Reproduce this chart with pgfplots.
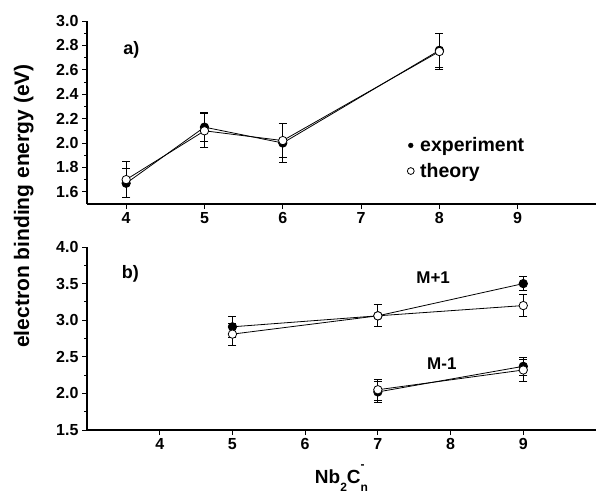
\documentclass[border=0pt]{standalone}
\usepackage{fontspec}
\setmainfont{Liberation Sans}
\usepackage{pgfplots}
\usepackage{pgfplotstable}
\pgfplotsset{compat=1.18}

% panel a)
\pgfplotstableread{
n  y     err
4  1.67  0.12
5  2.13  0.12
6  2.00  0.16
8  2.76  0.14
}\expA
\pgfplotstableread{
n  y     err
4  1.70  0.15
5  2.10  0.14
6  2.02  0.14
8  2.75  0.15
}\thyA
% panel b), M+1
\pgfplotstableread{
n  y     err
5  2.91  0.14
7  3.06  0.15
9  3.50  0.10
}\expP
\pgfplotstableread{
n  y     err
5  2.81  0.15
7  3.06  0.15
9  3.20  0.15
}\thyP
% panel b), M-1
\pgfplotstableread{
n  y     err
7  2.02  0.14
9  2.37  0.12
}\expM
\pgfplotstableread{
n  y     err
7  2.05  0.14
9  2.32  0.15
}\thyM

\tikzset{lab/.style={font=\fontsize{17}{17}\selectfont\bfseries}}

\pgfplotsset{
  panel/.style={
    scale only axis, width=509pt, height=183pt,
    axis x line=bottom, axis y line=left,
    axis line style={-, line width=1.1pt},
    tick align=outside, major tick length=5pt, minor tick length=3pt,
    tick style={black, line width=1pt},
    xtick={4,5,6,7,8,9},
    minor y tick num=1,
    ticklabel style={font=\fontsize{16}{16}\selectfont\bfseries},
    /pgf/number format/assume math mode=true,
    yticklabel style={/pgf/number format/.cd, fixed, fixed zerofill, precision=1},
    clip=false,
  },
  errs/.style={/pgfplots/error bars/.cd, y dir=both, y explicit,
    error bar style={line width=0.9pt, black},
    error mark options={rotate=90, mark size=4pt, line width=0.9pt, black},
    /pgfplots/.cd},
  exp/.style={forget plot, black, line width=0.8pt, mark=*, mark size=4.2pt,
    mark options={solid, fill=black, line width=0.8pt}, errs},
  thy/.style={forget plot, black, line width=0.8pt, mark=*, mark size=4.2pt,
    mark options={solid, fill=white, line width=0.8pt}, errs},
  dotlegend/.style={legend image code/.code={\draw[##1] plot coordinates {(0pt,0pt)};}},
}

\begin{document}
\begin{tikzpicture}
\path[use as bounding box] (0,0) rectangle (596pt,-493pt);

\begin{axis}[panel, at={(87pt,-204pt)}, anchor=south west,
  xmin=3.5, xmax=10, ymin=1.5, ymax=3.0,
  ytick={1.6,1.8,2.0,2.2,2.4,2.6,2.8,3.0},
  legend style={at={(axis description cs:0.629,0.375)}, anchor=north west,
    draw=none, fill=none, inner sep=0pt, row sep=6pt, column sep=4pt,
    font=\fontsize{19.5}{19.5}\selectfont\bfseries,
    nodes={inner sep=2pt}},
  legend cell align=left]
\addplot[exp] table[x=n, y=y, y error=err] {\expA};
\addplot[thy] table[x=n, y=y, y error=err] {\thyA};
\addlegendimage{only marks, mark=*, mark size=2.4pt, black, dotlegend}
\addlegendentry{experiment}
\addlegendimage{only marks, mark=o, mark size=3.4pt, black, line width=0.8pt, dotlegend}
\addlegendentry{theory}
\node[lab, font=\fontsize{18}{18}\selectfont\bfseries, anchor=west] at (axis cs:3.92,2.76) {a)};
\end{axis}

\begin{axis}[panel, at={(87pt,-430pt)}, anchor=south west,
  xmin=3, xmax=10, ymin=1.5, ymax=4.0,
  ytick={1.5,2.0,2.5,3.0,3.5,4.0},
  xlabel={Nb\raisebox{-0.45em}{\fontsize{12}{12}\selectfont 2}C\rlap{\raisebox{0.75em}{\fontsize{12}{12}\selectfont -}}\raisebox{-0.45em}{\fontsize{12}{12}\selectfont n}},
  xlabel style={lab, font=\fontsize{19}{19}\selectfont\bfseries,
    at={(axis description cs:0.5,0)}, anchor=base, yshift=-53pt}]
\addplot[exp] table[x=n, y=y, y error=err] {\expP};
\addplot[thy] table[x=n, y=y, y error=err] {\thyP};
\addplot[exp] table[x=n, y=y, y error=err] {\expM};
\addplot[thy] table[x=n, y=y, y error=err] {\thyM};
\node[lab, font=\fontsize{18}{18}\selectfont\bfseries, anchor=west] at (axis cs:3.43,3.64) {b)};
\node[lab] at (axis cs:7.76,3.58) {M+1};
\node[lab] at (axis cs:7.88,2.41) {M-1};
\end{axis}

\node[lab, font=\fontsize{21}{21}\selectfont\bfseries, rotate=90, anchor=base]
  at (29pt,-206pt) {electron binding energy (eV)};
\end{tikzpicture}
\end{document}
